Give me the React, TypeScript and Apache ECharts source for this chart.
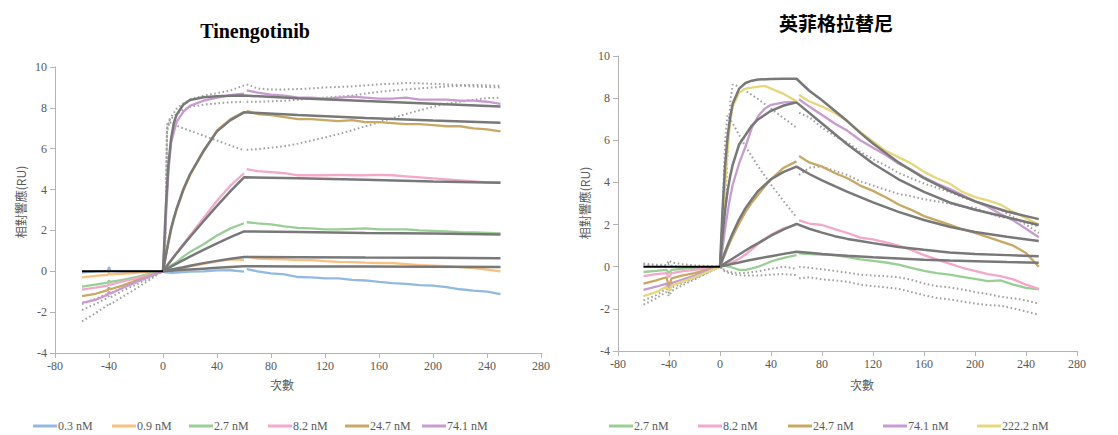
import React, { useEffect, useRef } from "react";
import * as echarts from "echarts";

// ---------- Left panel: Tinengotinib ----------
const L_NAMES = ["0.3 nM", "0.9 nM", "2.7 nM", "8.2 nM", "24.7 nM", "74.1 nM"];
const L_COLORS = ["#93b9e3", "#fbbf80", "#99cf95", "#f4a7c9", "#c8a862", "#c89bd0"];

const T_L_PRE = [-60, -50, -41, -40, -39, -30, -20, -10, 0];
const T_L_ASSOC = [0, 2, 4, 6, 10, 15, 20, 30, 40, 50, 60];
const T_DISS = [62, 70, 80, 90, 100, 110, 120, 130, 140, 150, 160, 170, 180, 190, 200, 210, 220, 230, 240, 250];
const T_L_FIT_ASSOC = [0, 2, 4, 6, 8, 10, 15, 20, 30, 40, 50, 60];
const T_L_FIT_DISS = [60, 100, 150, 200, 250];
const T_L_DOT_ASSOC = [0, 1, 2, 3, 5, 10, 15, 20, 30, 40, 50, 60];

const L_RAW_PRE = [
  [-0.05, 0.0, 0.02, 0.2, 0.02, 0.0, 0.0, 0.0, 0],
  [-0.3, -0.22, -0.18, -0.08, -0.15, -0.12, -0.08, -0.02, 0],
  [-0.75, -0.65, -0.55, -0.45, -0.52, -0.42, -0.28, -0.12, 0],
  [-0.9, -0.8, -0.7, -0.6, -0.65, -0.5, -0.35, -0.18, 0],
  [-1.22, -1.1, -0.92, -0.8, -0.88, -0.7, -0.45, -0.22, 0],
  [-1.55, -1.4, -1.15, -1.0, -1.1, -0.82, -0.52, -0.25, 0],
];
const L_RAW_ASSOC = [
  [0, -0.05, -0.06, -0.08, -0.06, -0.04, -0.02, 0.0, 0.04, 0.05, -0.02],
  [0, 0.02, 0.04, 0.06, 0.1, 0.16, 0.24, 0.36, 0.48, 0.58, 0.56],
  [0, 0.1, 0.2, 0.28, 0.45, 0.72, 0.95, 1.32, 1.75, 2.1, 2.35],
  [0, 0.2, 0.38, 0.56, 0.9, 1.32, 1.75, 2.6, 3.45, 4.2, 4.8],
  [0, 0.7, 1.4, 2.05, 3.0, 3.95, 4.7, 5.85, 6.9, 7.45, 7.8],
  [0, 2.4, 4.9, 6.3, 7.3, 7.8, 8.1, 8.35, 8.5, 8.62, 8.7],
];
const L_RAW_DISS = [
  [0.1, 0.0, -0.1, -0.15, -0.28, -0.3, -0.35, -0.35, -0.42, -0.45, -0.52, -0.58, -0.62, -0.68, -0.7, -0.78, -0.88, -0.95, -1.0, -1.12],
  [0.72, 0.62, 0.6, 0.58, 0.55, 0.55, 0.5, 0.46, 0.45, 0.42, 0.4, 0.4, 0.35, 0.3, 0.28, 0.25, 0.2, 0.15, 0.08, 0.0],
  [2.4, 2.35, 2.3, 2.2, 2.12, 2.1, 2.05, 2.05, 2.08, 2.1, 2.05, 2.05, 2.05, 2.0, 1.98, 1.95, 1.92, 1.9, 1.88, 1.85],
  [5.0, 4.9, 4.85, 4.8, 4.7, 4.7, 4.7, 4.72, 4.7, 4.7, 4.72, 4.7, 4.65, 4.6, 4.55, 4.5, 4.45, 4.4, 4.35, 4.35],
  [7.85, 7.7, 7.65, 7.55, 7.45, 7.45, 7.4, 7.35, 7.4, 7.3, 7.3, 7.25, 7.2, 7.2, 7.15, 7.1, 7.1, 7.0, 6.95, 6.85],
  [8.85, 8.75, 8.65, 8.6, 8.5, 8.5, 8.45, 8.5, 8.55, 8.5, 8.45, 8.45, 8.5, 8.4, 8.4, 8.4, 8.35, 8.35, 8.3, 8.2],
];
const L_FIT_ASSOC = [
  [0, 0.01, 0.02, 0.03, 0.04, 0.05, 0.07, 0.09, 0.13, 0.17, 0.21, 0.25],
  [0, 0.03, 0.06, 0.09, 0.11, 0.14, 0.2, 0.27, 0.4, 0.51, 0.61, 0.7],
  [0, 0.08, 0.16, 0.23, 0.3, 0.37, 0.55, 0.72, 1.05, 1.37, 1.67, 1.95],
  [0, 0.18, 0.36, 0.53, 0.7, 0.87, 1.28, 1.68, 2.45, 3.2, 3.92, 4.6],
  [0, 0.75, 1.45, 2.1, 2.6, 3.05, 4.0, 4.75, 5.9, 6.85, 7.4, 7.78],
  [0, 3.0, 5.2, 6.5, 7.25, 7.65, 8.15, 8.38, 8.52, 8.57, 8.59, 8.6],
];
const L_FIT_DISS = [
  [0.25, 0.24, 0.23, 0.22, 0.21],
  [0.7, 0.69, 0.67, 0.66, 0.64],
  [1.95, 1.92, 1.88, 1.85, 1.8],
  [4.6, 4.55, 4.48, 4.4, 4.33],
  [7.78, 7.65, 7.5, 7.38, 7.27],
  [8.6, 8.47, 8.33, 8.2, 8.07],
];
const L_DOT_PRE = [
  [-2.45, -2.05, -1.65, -1.55, -1.62, -1.25, -0.85, -0.42, 0],
  [-1.9, -1.6, -1.3, -1.2, -1.28, -0.95, -0.65, -0.32, 0],
  [-1.6, -1.35, -1.1, -1.0, -1.08, -0.8, -0.55, -0.28, 0],
];
const L_DOT_ASSOC = [
  [0, 0.6, 2.5, 7.2, 7.3, 7.13, 7.0, 6.88, 6.64, 6.4, 6.16, 5.92],
  [0, 0.5, 2.2, 7.0, 7.45, 7.95, 8.22, 8.4, 8.6, 8.72, 8.85, 9.1],
  [0, 0.4, 2.0, 6.8, 7.4, 7.7, 7.9, 8.05, 8.15, 8.22, 8.27, 8.3],
];
const L_DOT_DISS = [
  [5.95, 5.98, 6.05, 6.12, 6.25, 6.4, 6.55, 6.72, 6.9, 7.1, 7.3, 7.5, 7.7, 7.88, 8.05, 8.2, 8.3, 8.4, 8.48, 8.5],
  [9.15, 8.95, 8.9, 8.9, 8.92, 8.95, 9.0, 9.02, 9.05, 9.1, 9.15, 9.18, 9.22, 9.2, 9.18, 9.15, 9.12, 9.12, 9.1, 9.08],
  [8.3, 8.3, 8.32, 8.35, 8.4, 8.45, 8.5, 8.55, 8.6, 8.7, 8.78, 8.85, 8.9, 8.95, 9.0, 9.05, 9.08, 9.05, 9.02, 9.0],
];

// ---------- Right panel: 英菲格拉替尼 ----------
const R_NAMES = ["2.7 nM", "8.2 nM", "24.7 nM", "74.1 nM", "222.2 nM"];
const R_COLORS = ["#99cf95", "#f4a7c9", "#c8a862", "#c89bd0", "#e6d67c"];

const T_R_PRE = [-60, -50, -42, -40, -38, -30, -20, -10, 0];
const T_R_ASSOC = [0, 2, 4, 6, 8, 10, 15, 20, 25, 30, 35, 40, 50, 60];
const T_R_FIT_ASSOC = [0, 1, 2, 4, 6, 8, 10, 15, 20, 25, 30, 40, 50, 60];
const T_R_FIT_DISS = [60, 70, 80, 90, 100, 110, 120, 140, 160, 180, 200, 225, 250];
const T_R_DOT_ASSOC = [0, 2, 4, 6, 8, 10, 15, 20, 30, 40, 50, 60];

const R_RAW_PRE = [
  [-0.25, -0.2, -0.15, -0.3, -0.15, -0.1, -0.05, -0.02, 0],
  [-0.45, -0.35, -0.3, -0.5, -0.3, -0.22, -0.15, -0.08, 0],
  [-0.8, -0.65, -0.5, -0.95, -0.55, -0.42, -0.3, -0.15, 0],
  [-1.1, -0.95, -0.8, -1.05, -0.78, -0.62, -0.42, -0.2, 0],
  [-1.4, -1.2, -0.95, -1.15, -0.9, -0.72, -0.5, -0.25, 0],
];
const R_RAW_ASSOC = [
  [0, 0.05, 0.05, 0.02, 0.0, -0.05, -0.15, -0.15, -0.08, 0.0, 0.12, 0.25, 0.42, 0.55],
  [0, 0.04, 0.08, 0.12, 0.17, 0.22, 0.38, 0.58, 0.82, 1.08, 1.32, 1.52, 1.82, 2.0],
  [0, 0.3, 0.6, 0.9, 1.18, 1.45, 2.05, 2.6, 3.05, 3.42, 3.8, 4.15, 4.7, 5.0],
  [0, 0.9, 1.8, 2.6, 3.3, 3.9, 4.9, 5.7, 6.6, 7.15, 7.5, 7.68, 7.8, 7.82],
  [0, 1.8, 3.8, 5.6, 6.9, 7.6, 8.25, 8.45, 8.5, 8.55, 8.58, 8.45, 8.2, 7.85],
];
const R_RAW_DISS = [
  [0.63, 0.6, 0.58, 0.55, 0.45, 0.35, 0.28, 0.2, 0.1, -0.05, -0.2, -0.3, -0.38, -0.48, -0.58, -0.68, -0.65, -0.85, -1.0, -1.08],
  [2.2, 2.05, 1.98, 1.78, 1.6, 1.38, 1.3, 1.15, 1.0, 0.8, 0.55, 0.35, 0.15, -0.05, -0.2, -0.35, -0.45, -0.6, -0.85, -1.05],
  [5.25, 4.95, 4.75, 4.45, 4.2, 3.85, 3.6, 3.3, 2.95, 2.7, 2.4, 2.2, 2.0, 1.78, 1.6, 1.4, 1.2, 1.0, 0.65, 0.0],
  [7.95, 7.6, 7.2, 6.8, 6.45, 6.0, 5.65, 5.3, 4.9, 4.6, 4.25, 3.95, 3.7, 3.4, 3.1, 2.85, 2.5, 2.2, 1.8, 1.4],
  [8.15, 7.85, 7.6, 7.3, 6.9, 6.4, 5.95, 5.5, 5.2, 4.9, 4.5, 4.2, 3.95, 3.55, 3.3, 3.15, 2.95, 2.6, 2.3, 2.0],
];
const R_FIT_ASSOC = [
  [0, 0.014, 0.03, 0.06, 0.08, 0.11, 0.14, 0.2, 0.27, 0.33, 0.39, 0.5, 0.61, 0.71],
  [0, 0.04, 0.08, 0.16, 0.24, 0.31, 0.39, 0.58, 0.77, 0.95, 1.12, 1.47, 1.77, 2.03],
  [0, 0.18, 0.36, 0.7, 1.02, 1.32, 1.6, 2.25, 2.78, 3.2, 3.6, 4.15, 4.5, 4.75],
  [0, 0.8, 1.5, 2.7, 3.6, 4.3, 4.85, 5.8, 6.25, 6.7, 7.0, 7.4, 7.65, 7.8],
  [0, 1.4, 2.7, 4.8, 6.2, 7.1, 7.75, 8.45, 8.72, 8.83, 8.88, 8.91, 8.92, 8.92],
];
const R_FIT_DISS = [
  [0.71, 0.66, 0.6, 0.56, 0.52, 0.49, 0.45, 0.39, 0.33, 0.29, 0.26, 0.22, 0.19],
  [2.03, 1.8, 1.62, 1.45, 1.32, 1.22, 1.12, 0.94, 0.8, 0.68, 0.6, 0.55, 0.5],
  [4.75, 4.4, 4.1, 3.82, 3.55, 3.3, 3.05, 2.6, 2.22, 1.9, 1.65, 1.42, 1.22],
  [7.8, 7.3, 6.8, 6.3, 5.8, 5.35, 4.9, 4.15, 3.55, 3.05, 2.7, 2.35, 1.98],
  [8.92, 8.35, 7.9, 7.4, 6.9, 6.35, 5.85, 4.95, 4.2, 3.6, 3.1, 2.62, 2.26],
];
const R_DOT_PRE = [
  [-1.8, -1.5, -1.2, -1.4, -1.15, -0.9, -0.6, -0.3, 0],
  [-1.6, -1.35, -1.05, -1.25, -1.0, -0.8, -0.55, -0.28, 0],
  [0.15, 0.1, 0.08, 0.3, 0.2, 0.12, 0.06, 0.04, 0],
  [0.1, 0.05, 0.02, 0.15, 0.05, 0.0, -0.05, -0.03, 0],
];
const R_DOT_ASSOC = [
  [0, 0.8, 2.5, 5.5, 7.8, 8.65, 8.55, 8.35, 7.95, 7.5, 7.05, 6.6],
  [0, 2.5, 6.0, 7.2, 7.0, 6.8, 6.25, 5.7, 4.75, 3.9, 3.1, 2.35],
  [0, -0.1, -0.18, -0.22, -0.25, -0.28, -0.3, -0.3, -0.22, -0.1, 0.0, -0.1],
  [0, -0.15, -0.22, -0.28, -0.32, -0.35, -0.4, -0.42, -0.42, -0.38, -0.35, -0.4],
];
const R_DOT_DISS = [
  [7.3, 7.1, 6.6, 6.2, 5.9, 5.45, 5.1, 4.8, 4.45, 4.2, 3.95, 3.75, 3.55, 3.3, 3.1, 2.9, 2.7, 2.35, 2.0, 1.6],
  [4.35, 4.7, 4.75, 4.55, 4.35, 4.05, 3.85, 3.65, 3.45, 3.35, 3.2, 3.1, 3.0, 2.85, 2.8, 2.55, 2.35, 2.3, 2.1, 1.9],
  [0.0, -0.05, -0.12, -0.2, -0.28, -0.38, -0.42, -0.45, -0.5, -0.62, -0.8, -0.92, -0.98, -1.08, -1.2, -1.3, -1.42, -1.5, -1.6, -1.75],
  [-0.55, -0.5, -0.6, -0.65, -0.72, -0.85, -0.92, -0.98, -1.05, -1.2, -1.35, -1.48, -1.55, -1.65, -1.75, -1.82, -1.85, -1.98, -2.12, -2.28],
];

const BASE_T = [-60, 0];
const BASE_V = [0, 0];

const X_TICKS = { min: -80, max: 280, interval: 40 };
const Y_TICKS = { min: -4, max: 10, interval: 2 };

// gap marker: the instrument stops recording between the end of injection (60 s) and the restart (62 s)
const GAP_T = 61;

function zipSegs(ts: number[][], vs: number[][], breakBefore: number = -1): any[] {
  const out: any[] = [];
  for (let i = 0; i < ts.length; i++) {
    if (i === breakBefore) out.push([GAP_T, "-"]);
    for (let j = 0; j < ts[i].length; j++) out.push([ts[i][j], vs[i][j]]);
  }
  return out;
}

const TEXT_COLOR = "#595959";
const AXIS_COLOR = "#b4b4b4";
const SERIF = "Liberation Serif";
const CJK = "Noto Sans CJK TC";

// legend slot positions (left edge of each key)
const L_LEGEND_X = [33, 112, 189, 268, 345, 422];
const R_LEGEND_X = [609, 698, 788, 883, 977];

function buildOption() {
  const series: any[] = [];
  const dotStyle = { color: "#a0a0a0", width: 2, type: [1.6, 2.6] as any };
  const fitStyle = { color: "#787878", width: 2.5 };

  const addPanel = (
    idx: number,
    names: string[],
    colors: string[],
    tPre: number[],
    tAssoc: number[],
    rawPre: number[][],
    rawAssoc: number[][],
    rawDiss: number[][],
    tFitA: number[],
    tFitD: number[],
    fitA: number[][],
    fitD: number[][],
    tDotA: number[],
    dotPre: number[][],
    dotA: number[][],
    dotD: number[][]
  ) => {
    dotPre.forEach((_, k) => {
      series.push({
        type: "line",
        xAxisIndex: idx,
        yAxisIndex: idx,
        data: zipSegs([tPre, tDotA, T_DISS], [dotPre[k], dotA[k], dotD[k]], 2),
        showSymbol: false,
        symbol: "none",
        lineStyle: dotStyle,
        z: 1,
        silent: true,
      });
    });
    names.forEach((nm, k) => {
      series.push({
        name: nm,
        type: "line",
        xAxisIndex: idx,
        yAxisIndex: idx,
        data: zipSegs([tPre, tAssoc, T_DISS], [rawPre[k], rawAssoc[k], rawDiss[k]], 2),
        showSymbol: false,
        symbol: "none",
        itemStyle: { color: colors[k] },
        lineStyle: { color: colors[k], width: 2.3 },
        z: 2,
      });
    });
    fitA.forEach((_, k) => {
      series.push({
        type: "line",
        xAxisIndex: idx,
        yAxisIndex: idx,
        data: zipSegs([tFitA, tFitD], [fitA[k], fitD[k]]),
        showSymbol: false,
        symbol: "none",
        lineStyle: fitStyle,
        z: 3,
        silent: true,
      });
    });
    series.push({
      type: "line",
      xAxisIndex: idx,
      yAxisIndex: idx,
      data: zipSegs([BASE_T], [BASE_V]),
      showSymbol: false,
      symbol: "none",
      lineStyle: { color: "#000000", width: 2 },
      z: 4,
      silent: true,
    });
  };

  addPanel(0, L_NAMES, L_COLORS, T_L_PRE, T_L_ASSOC, L_RAW_PRE, L_RAW_ASSOC, L_RAW_DISS,
    T_L_FIT_ASSOC, T_L_FIT_DISS, L_FIT_ASSOC, L_FIT_DISS, T_L_DOT_ASSOC, L_DOT_PRE, L_DOT_ASSOC, L_DOT_DISS);
  addPanel(1, R_NAMES, R_COLORS, T_R_PRE, T_R_ASSOC, R_RAW_PRE, R_RAW_ASSOC, R_RAW_DISS,
    T_R_FIT_ASSOC, T_R_FIT_DISS, R_FIT_ASSOC, R_FIT_DISS, T_R_DOT_ASSOC, R_DOT_PRE, R_DOT_ASSOC, R_DOT_DISS);

  const mkX = (gi: number) => ({
    gridIndex: gi,
    type: "value",
    ...X_TICKS,
    axisLine: { show: true, onZero: false, lineStyle: { color: AXIS_COLOR, width: 1 } },
    axisTick: { show: true, length: 5, lineStyle: { color: AXIS_COLOR } },
    axisLabel: { color: TEXT_COLOR, fontFamily: SERIF, fontSize: 12, margin: 7 },
    splitLine: { show: false },
  });
  const mkY = (gi: number) => ({
    gridIndex: gi,
    type: "value",
    ...Y_TICKS,
    axisLine: { show: true, onZero: false, lineStyle: { color: AXIS_COLOR, width: 1 } },
    axisTick: { show: true, length: 5, lineStyle: { color: AXIS_COLOR } },
    axisLabel: { color: TEXT_COLOR, fontFamily: SERIF, fontSize: 12, margin: 8 },
    splitLine: { show: false },
  });

  const mkLegend = (name: string, x: number) => ({
    data: [name],
    left: x,
    top: 420,
    padding: 0,
    itemWidth: 24,
    itemHeight: 3,
    icon: "rect",
    selectedMode: false,
    textStyle: { color: TEXT_COLOR, fontFamily: SERIF, fontSize: 12, padding: [0, 0, 0, -4] },
  });

  return {
    animation: false,
    backgroundColor: "#ffffff",
    grid: [
      { left: 55, top: 67, width: 486, height: 286 },
      { left: 618, top: 56, width: 459, height: 295 },
    ],
    xAxis: [mkX(0), mkX(1)],
    yAxis: [mkY(0), mkY(1)],
    legend: [
      ...L_NAMES.map((n, i) => mkLegend(n, L_LEGEND_X[i])),
      ...R_NAMES.map((n, i) => mkLegend(n, R_LEGEND_X[i])),
    ],
    graphic: [
      {
        type: "text",
        x: 255,
        y: 31,
        style: { text: "Tinengotinib", fontFamily: SERIF, fontWeight: "bold", fontSize: 20, fill: "#000", align: "center", verticalAlign: "middle" },
      },
      {
        type: "text",
        x: 836,
        y: 22,
        style: { text: "英菲格拉替尼", fontFamily: CJK, fontWeight: "bold", fontSize: 19, fill: "#000", align: "center", verticalAlign: "middle" },
      },
      {
        type: "text",
        x: 20,
        y: 202,
        rotation: Math.PI / 2,
        style: { text: "相對響應(RU)", fontFamily: CJK, fontSize: 12, fill: TEXT_COLOR, align: "center", verticalAlign: "middle" },
      },
      {
        type: "text",
        x: 584,
        y: 203,
        rotation: Math.PI / 2,
        style: { text: "相對響應(RU)", fontFamily: CJK, fontSize: 12, fill: TEXT_COLOR, align: "center", verticalAlign: "middle" },
      },
      {
        type: "text",
        x: 282,
        y: 384,
        style: { text: "次數", fontFamily: CJK, fontSize: 12, fill: TEXT_COLOR, align: "center", verticalAlign: "middle" },
      },
      {
        type: "text",
        x: 862,
        y: 384,
        style: { text: "次數", fontFamily: CJK, fontSize: 12, fill: TEXT_COLOR, align: "center", verticalAlign: "middle" },
      },
    ],
    series,
  };
}

export default function App() {
  const ref = useRef<HTMLDivElement>(null);
  useEffect(() => {
    if (!ref.current) return;
    const chart = echarts.init(ref.current, undefined, { renderer: "svg" });
    chart.setOption(buildOption() as any);
    return () => chart.dispose();
  }, []);
  return (
    <div
      ref={ref}
      style={{ position: "fixed", left: 0, top: 0, width: 1118, height: 435, background: "#fff" }}
    />
  );
}
